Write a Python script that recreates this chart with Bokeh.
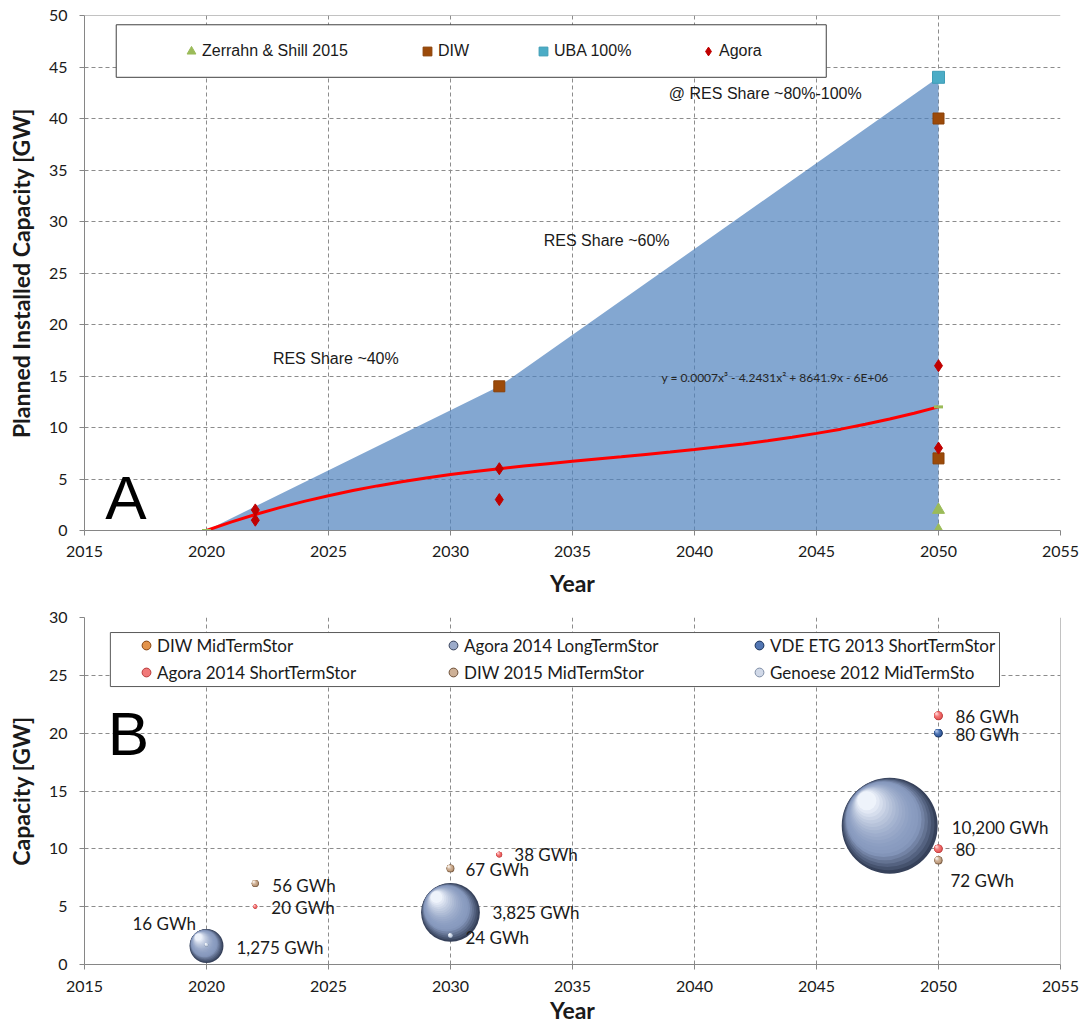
from bokeh.plotting import figure
from bokeh.layouts import column
from bokeh.models import (ColumnDataSource, Legend, LegendItem, BoxAnnotation,
                          Label, Span, FixedTicker, Range1d)
from bokeh.embed import file_html
from bokeh.resources import INLINE
from bokeh.core.properties import value

# ---------------- Panel A data ----------------
year_ticks = [2015, 2020, 2025, 2030, 2035, 2040, 2045, 2050, 2055]
cap_ticks_a = [0, 5, 10, 15, 20, 25, 30, 35, 40, 45, 50]
cap_ticks_b = [0, 5, 10, 15, 20, 25, 30]

area_years = [2020, 2032, 2050, 2050]
area_caps = [0, 14, 44, 0]

zerrahn_years = [2050, 2050]
zerrahn_caps = [2, 0]
zerrahn_dash_years = [2020, 2050]
zerrahn_dash_caps = [0, 12]
diw_years = [2032, 2050, 2050]
diw_caps = [14, 40, 7]
uba_years = [2050]
uba_caps = [44]
agora_years = [2022, 2022, 2032, 2032, 2050, 2050]
agora_caps = [2, 1, 6, 3, 16, 8]

trend_years = list(range(2020, 2051))
trend_caps = [0.0, 0.81, 1.55, 2.22, 2.83, 3.38, 3.88, 4.33, 4.73, 5.10, 5.43,
              5.73, 6.00, 6.26, 6.49, 6.72, 6.94, 7.16, 7.39, 7.62, 7.86,
              8.12, 8.40, 8.71, 9.05, 9.43, 9.84, 10.31, 10.82, 11.38, 12.0]

# ---------------- Panel B data ----------------
bubble_series = ["Agora 2014 LongTermStor", "Genoese 2012 MidTermSto", "DIW 2015 MidTermStor",
                 "Agora 2014 ShortTermStor", "Agora 2014 LongTermStor", "Genoese 2012 MidTermSto",
                 "DIW 2015 MidTermStor", "Agora 2014 ShortTermStor", "Agora 2014 ShortTermStor",
                 "VDE ETG 2013 ShortTermStor", "Agora 2014 LongTermStor", "Agora 2014 ShortTermStor",
                 "DIW 2015 MidTermStor"]
bubble_years = [2020, 2020, 2022, 2022, 2030, 2030, 2030, 2032, 2050, 2050, 2048, 2050, 2050]
bubble_caps = [1.6, 1.7, 7.0, 5.0, 4.5, 2.5, 8.3, 9.5, 21.5, 20.0, 12.0, 10.0, 9.0]
bubble_gwh = [1275, 16, 56, 20, 3825, 24, 67, 38, 86, 80, 10200, 80, 72]
bubble_labels = ["1,275 GWh", "16 GWh", "56 GWh", "20 GWh", "3,825 GWh", "24 GWh", "67 GWh",
                 "38 GWh", "86 GWh", "80 GWh", "10,200 GWh", "80", "72 GWh"]
# label offsets (screen px) relative to bubble centre
bubble_label_dx = [30, -74, 17, 16, 42, 15, 15, 15, 17, 17, 62, 17, 12]
bubble_label_dy = [2, -21, 2, 1, 0, 2, 1, 0, 1, 1, 2, 1, 20]

legend_b_columns = [["DIW MidTermStor", "Agora 2014 ShortTermStor"],
                    ["Agora 2014 LongTermStor", "DIW 2015 MidTermStor"],
                    ["VDE ETG 2013 ShortTermStor", "Genoese 2012 MidTermSto"]]

# (edge, mid, highlight)
series_colors = {
    "DIW MidTermStor": ("#84420E", "#DD8436", "#F9CF9F"),
    "Agora 2014 LongTermStor": ("#36415A", "#8799BE", "#EEF3FB"),
    "VDE ETG 2013 ShortTermStor": ("#17305A", "#3C64A6", "#A8C0E8"),
    "Agora 2014 ShortTermStor": ("#B83A3A", "#EE6363", "#FFD0D0"),
    "DIW 2015 MidTermStor": ("#6E5038", "#C4A283", "#F7EEE6"),
    "Genoese 2012 MidTermSto": ("#7F8EA6", "#C5D0E2", "#FFFFFF"),
}

TICK_FONT = "Lato"
TXT = "#1a1a1a"
AX = "#868686"
GRID = "#8c8c8c"
NAN = float("nan")


def style(p, xlabel, ylabel):
    p.xaxis.axis_label = xlabel
    p.yaxis.axis_label = ylabel
    for ax in (p.xaxis[0], p.yaxis[0]):
        ax.axis_label_text_font = TICK_FONT
        ax.axis_label_text_font_style = "bold"
        ax.axis_label_text_font_size = "23px"
        ax.axis_label_text_color = TXT
        ax.major_label_text_font = TICK_FONT
        ax.major_label_text_font_size = "16px"
        ax.major_label_text_color = TXT
        ax.axis_line_color = AX
        ax.major_tick_line_color = AX
        ax.major_tick_out = 5
        ax.major_tick_in = 0
        ax.minor_tick_line_color = None
    p.grid.grid_line_color = GRID
    p.grid.grid_line_dash = "4 3"
    p.grid.grid_line_width = 1
    p.outline_line_color = None
    p.background_fill_color = "white"
    p.border_fill_color = "white"


# ======================= Figure A =======================
WA, HA = 1084, 603
LA, RA, TA, BA = 84, 24, 15, 73
pA = figure(width=WA, height=HA, output_backend="svg", toolbar_location=None,
            x_range=Range1d(2015, 2055), y_range=Range1d(0, 50),
            min_border_left=LA, min_border_right=RA, min_border_top=TA, min_border_bottom=BA)
style(pA, "Year", "Planned Installed Capacity [GW]")
pA.xaxis.ticker = FixedTicker(ticks=year_ticks)
pA.yaxis.ticker = FixedTicker(ticks=cap_ticks_a)
pA.xaxis.major_label_standoff = 10
pA.xaxis.axis_label_standoff = 9
pA.yaxis.major_label_standoff = 12
pA.yaxis.axis_label_standoff = 11

pA.patch(area_years, area_caps, fill_color="#4F81BD", fill_alpha=0.7, line_color=None)
pA.line(trend_years, trend_caps, line_color="#FF0000", line_width=3)
pA.scatter(zerrahn_dash_years, zerrahn_dash_caps, marker="dash", size=9,
           line_color="#9BBB59", line_width=3)
r_z = pA.scatter(zerrahn_years, zerrahn_caps, marker="triangle", size=12,
                 fill_color="#9BBB59", line_color="#9BBB59")
r_d = pA.scatter(diw_years, diw_caps, marker="square", size=11,
                 fill_color="#9C4A09", line_color="#8A4006")
r_u = pA.scatter(uba_years, uba_caps, marker="square", size=12,
                 fill_color="#4BACC6", line_color="#3F9DB6")
r_a = pA.scatter(agora_years, agora_caps, marker="diamond", size=12,
                 fill_color="#C00000", line_color="#C00000")

pA.add_layout(Span(location=50, dimension="width", line_color=AX, line_width=1))

for txt, x, y in [("@ RES Share ~80%-100%", 2042.9, 42.4),
                  ("RES Share ~60%", 2036.4, 28.2),
                  ("RES Share ~40%", 2025.3, 16.7)]:
    pA.add_layout(Label(x=x, y=y, text=txt, text_font="Liberation Sans",
                        text_font_size="16px", text_color=TXT,
                        text_align="center", text_baseline="middle"))
pA.add_layout(Label(x=2043.3, y=14.85, text="y = 0.0007x³ - 4.2431x² + 8641.9x - 6E+06",
                    text_font=TICK_FONT, text_font_size="12px", text_color="#262626",
                    text_align="center", text_baseline="middle"))
pA.add_layout(Label(x=2016.7, y=3.2, text="A", text_font="Liberation Sans",
                    text_font_size="62px", text_color="black",
                    text_align="center", text_baseline="middle"))

pA.add_layout(BoxAnnotation(left=2016.3, right=2045.4, bottom=44.0, top=49.1,
                            fill_color="white", fill_alpha=1.0,
                            line_color="#404040", line_width=1, line_alpha=1.0))

legA_items = [("Zerrahn & Shill 2015", r_z, 96), ("DIW", r_d, 332),
              ("UBA 100%", r_u, 448), ("Agora", r_a, 613)]
for label, r, lx in legA_items:
    lg = Legend(items=[LegendItem(label=label, renderers=[r])], location=(lx, 468),
                orientation="horizontal", padding=0, margin=0, spacing=0,
                label_standoff=0, glyph_width=22, glyph_height=22, label_height=20,
                label_text_font="Liberation Sans", label_text_font_size="16px",
                label_text_color=TXT, background_fill_alpha=0, border_line_alpha=0)
    pA.add_layout(lg, "center")

# ======================= Figure B =======================
WB, HB = 1084, 427
LB, RB, TB, BB = 84, 17, 14, 66
pB = figure(width=WB, height=HB, output_backend="svg", toolbar_location=None,
            x_range=Range1d(2015, 2055), y_range=Range1d(0, 30),
            min_border_left=LB, min_border_right=RB, min_border_top=TB, min_border_bottom=BB)
style(pB, "Year", "Capacity [GW]")
pB.xaxis.ticker = FixedTicker(ticks=year_ticks)
pB.yaxis.ticker = FixedTicker(ticks=cap_ticks_b)
pB.xaxis.major_label_standoff = 11
pB.xaxis.axis_label_standoff = 1
pB.yaxis.major_label_standoff = 12
pB.yaxis.axis_label_standoff = 11
pB.add_layout(Span(location=2055, dimension="height", line_color=AX, line_width=1))

frame_w = WB - LB - RB
frame_h = HB - TB - BB
xpp = 40.0 / frame_w
ypp = 30.0 / frame_h


def hex2rgb(h):
    return tuple(int(h[i:i + 2], 16) for i in (1, 3, 5))


def mix(c1, c2, t):
    a, b = hex2rgb(c1), hex2rgb(c2)
    return "#%02x%02x%02x" % tuple(int(round(a[i] + (b[i] - a[i]) * t)) for i in range(3))


def shade(edge, mid, hi, t):
    if t < 0.28:
        return mix(edge, mid, t / 0.28)
    return mix(mid, hi, ((t - 0.28) / 0.72) ** 1.7)


N_LAYERS = 20
BUBBLE_SCALE = 0.95
order = sorted(range(len(bubble_gwh)), key=lambda i: -bubble_gwh[i])
sx, sy, ss, sc = [], [], [], []
for i in order:
    d = BUBBLE_SCALE * bubble_gwh[i] ** 0.5
    edge, mid, hi = series_colors[bubble_series[i]]
    for k in range(N_LAYERS):
        t = k / (N_LAYERS - 1)
        sx.append(bubble_years[i] - 0.24 * d * t * xpp)
        sy.append(bubble_caps[i] + 0.26 * d * t * ypp)
        ss.append(d * (1 - 0.8 * t))
        sc.append(shade(edge, mid, hi, t))
sphere_src = ColumnDataSource(dict(x=sx, y=sy, size=ss, color=sc))
pB.scatter("x", "y", size="size", fill_color="color", line_color=None, source=sphere_src)

lab_src = ColumnDataSource(dict(x=bubble_years, y=bubble_caps, text=bubble_labels,
                                dx=bubble_label_dx, dy=bubble_label_dy))
pB.text("x", "y", text="text", x_offset="dx", y_offset="dy", source=lab_src,
        text_font=value(TICK_FONT), text_font_size="17px", text_color=TXT,
        text_align="left", text_baseline="middle")

pB.add_layout(Label(x=2016.8, y=20.0, text="B", text_font="Liberation Sans",
                    text_font_size="62px", text_color="black",
                    text_align="center", text_baseline="middle"))

pB.add_layout(BoxAnnotation(left=2016.06, right=2052.5, bottom=24.03, top=28.70,
                            fill_color="white", fill_alpha=1.0,
                            line_color="#595959", line_width=1, line_alpha=1.0))

legB_x = [51, 358, 664]
for col_names, lx in zip(legend_b_columns, legB_x):
    items = []
    for nm in col_names:
        edge, mid, hi = series_colors[nm]
        # legend-only renderer (no drawable point)
        r = pB.scatter([NAN], [NAN], marker="circle", size=9, fill_color=mix(mid, hi, 0.2),
                       line_color=edge, line_width=1)
        items.append(LegendItem(label=nm, renderers=[r]))
    lg = Legend(items=items, location=(lx, 279), orientation="vertical",
                padding=0, margin=0, spacing=1, label_standoff=0,
                glyph_width=22, glyph_height=26, label_height=20,
                label_text_font=TICK_FONT, label_text_font_size="17px",
                label_text_color=TXT, background_fill_alpha=0, border_line_alpha=0)
    pB.add_layout(lg, "center")

layout = column(pA, pB, spacing=0)
open("out.html", "w").write(file_html(layout, INLINE))
